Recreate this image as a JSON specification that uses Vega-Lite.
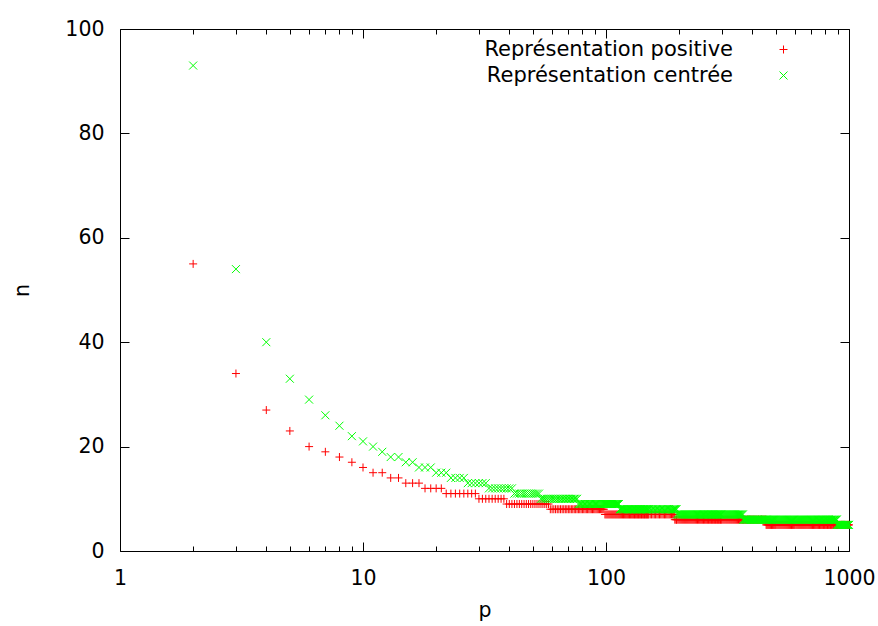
{
"$schema":"https://vega.github.io/schema/vega-lite/v6.json",
"width":729,"height":522,
"autosize":{"type":"none"},
"padding":{"left":120,"top":29,"right":29,"bottom":75},
"background":"#ffffff",
"config":{
"view":{"stroke":"#000000","strokeWidth":1},
"font":"DejaVu Sans",
"axis":{"domain":false,"grid":false,"tickColor":"#000000","tickWidth":1,"labelColor":"#000000","titleColor":"#000000","labelFont":"DejaVu Sans","titleFont":"DejaVu Sans","labelFontSize":20.5,"titleFontSize":20.5,"titleFontWeight":"normal","labelFlush":false,"labelOverlap":false}
},
"data":{"values":[
{"p":2,"a":55,"b":93},{"p":3,"a":34,"b":54},{"p":4,"a":27,"b":40},{"p":5,"a":23,"b":33},{"p":6,"a":20,"b":29},{"p":7,"a":19,"b":26},{"p":8,"a":18,"b":24},{"p":9,"a":17,"b":22},{"p":10,"a":16,"b":21},
{"p":11,"a":15,"b":20},{"p":12,"a":15,"b":19},{"p":13,"a":14,"b":18},{"p":14,"a":14,"b":18},{"p":15,"a":13,"b":17},{"p":16,"a":13,"b":17},{"p":17,"a":13,"b":16},{"p":18,"a":12,"b":16},{"p":19,"a":12,"b":16},{"p":20,"a":12,"b":15},
{"p":21,"a":12,"b":15},{"p":22,"a":11,"b":15},{"p":23,"a":11,"b":14},{"p":24,"a":11,"b":14},{"p":25,"a":11,"b":14},{"p":26,"a":11,"b":14},{"p":27,"a":11,"b":13},{"p":28,"a":11,"b":13},{"p":29,"a":11,"b":13},{"p":30,"a":10,"b":13},
{"p":31,"a":10,"b":13},{"p":32,"a":10,"b":13},{"p":33,"a":10,"b":12},{"p":34,"a":10,"b":12},{"p":35,"a":10,"b":12},{"p":36,"a":10,"b":12},{"p":37,"a":10,"b":12},{"p":38,"a":10,"b":12},{"p":39,"a":9,"b":12},{"p":40,"a":9,"b":12},
{"p":41,"a":9,"b":12},{"p":42,"a":9,"b":11},{"p":43,"a":9,"b":11},{"p":44,"a":9,"b":11},{"p":45,"a":9,"b":11},{"p":46,"a":9,"b":11},{"p":47,"a":9,"b":11},{"p":48,"a":9,"b":11},{"p":49,"a":9,"b":11},{"p":50,"a":9,"b":11},
{"p":51,"a":9,"b":11},{"p":52,"a":9,"b":11},{"p":53,"a":9,"b":11},{"p":54,"a":9,"b":10},{"p":55,"a":9,"b":10},{"p":56,"a":9,"b":10},{"p":57,"a":9,"b":10},{"p":58,"a":9,"b":10},{"p":59,"a":8,"b":10},{"p":60,"a":8,"b":10},
{"p":61,"a":8,"b":10},{"p":62,"a":8,"b":10},{"p":63,"a":8,"b":10},{"p":64,"a":8,"b":10},{"p":65,"a":8,"b":10},{"p":66,"a":8,"b":10},{"p":67,"a":8,"b":10},{"p":68,"a":8,"b":10},{"p":69,"a":8,"b":10},{"p":70,"a":8,"b":10},
{"p":71,"a":8,"b":10},{"p":72,"a":8,"b":10},{"p":73,"a":8,"b":10},{"p":74,"a":8,"b":10},{"p":75,"a":8,"b":10},{"p":76,"a":8,"b":10},{"p":77,"a":8,"b":9},{"p":78,"a":8,"b":9},{"p":79,"a":8,"b":9},{"p":80,"a":8,"b":9},
{"p":81,"a":8,"b":9},{"p":82,"a":8,"b":9},{"p":83,"a":8,"b":9},{"p":84,"a":8,"b":9},{"p":85,"a":8,"b":9},{"p":86,"a":8,"b":9},{"p":87,"a":8,"b":9},{"p":88,"a":8,"b":9},{"p":89,"a":8,"b":9},{"p":90,"a":8,"b":9},
{"p":91,"a":8,"b":9},{"p":92,"a":8,"b":9},{"p":93,"a":8,"b":9},{"p":94,"a":8,"b":9},{"p":95,"a":8,"b":9},{"p":96,"a":8,"b":9},{"p":97,"a":8,"b":9},{"p":98,"a":8,"b":9},{"p":99,"a":7,"b":9},{"p":100,"a":7,"b":9},
{"p":101,"a":7,"b":9},{"p":102,"a":7,"b":9},{"p":103,"a":7,"b":9},{"p":104,"a":7,"b":9},{"p":105,"a":7,"b":9},{"p":106,"a":7,"b":9},{"p":107,"a":7,"b":9},{"p":108,"a":7,"b":9},{"p":109,"a":7,"b":9},{"p":110,"a":7,"b":9},
{"p":111,"a":7,"b":9},{"p":112,"a":7,"b":9},{"p":113,"a":7,"b":9},{"p":114,"a":7,"b":8},{"p":115,"a":7,"b":8},{"p":116,"a":7,"b":8},{"p":117,"a":7,"b":8},{"p":118,"a":7,"b":8},{"p":119,"a":7,"b":8},{"p":120,"a":7,"b":8},
{"p":121,"a":7,"b":8},{"p":122,"a":7,"b":8},{"p":123,"a":7,"b":8},{"p":124,"a":7,"b":8},{"p":125,"a":7,"b":8},{"p":126,"a":7,"b":8},{"p":127,"a":7,"b":8},{"p":128,"a":7,"b":8},{"p":129,"a":7,"b":8},{"p":130,"a":7,"b":8},
{"p":131,"a":7,"b":8},{"p":132,"a":7,"b":8},{"p":133,"a":7,"b":8},{"p":134,"a":7,"b":8},{"p":135,"a":7,"b":8},{"p":136,"a":7,"b":8},{"p":137,"a":7,"b":8},{"p":138,"a":7,"b":8},{"p":139,"a":7,"b":8},{"p":140,"a":7,"b":8},
{"p":141,"a":7,"b":8},{"p":142,"a":7,"b":8},{"p":143,"a":7,"b":8},{"p":144,"a":7,"b":8},{"p":145,"a":7,"b":8},{"p":146,"a":7,"b":8},{"p":147,"a":7,"b":8},{"p":148,"a":7,"b":8},{"p":149,"a":7,"b":8},{"p":150,"a":7,"b":8},
{"p":152,"a":7,"b":8},{"p":154,"a":7,"b":8},{"p":156,"a":7,"b":8},{"p":158,"a":7,"b":8},{"p":160,"a":7,"b":8},{"p":162,"a":7,"b":8},{"p":164,"a":7,"b":8},{"p":166,"a":7,"b":8},{"p":168,"a":7,"b":8},{"p":170,"a":7,"b":8},
{"p":172,"a":7,"b":8},{"p":174,"a":7,"b":8},{"p":176,"a":7,"b":8},{"p":178,"a":7,"b":8},{"p":180,"a":7,"b":8},{"p":182,"a":7,"b":8},{"p":184,"a":7,"b":8},{"p":186,"a":7,"b":8},{"p":188,"a":7,"b":8},{"p":190,"a":7,"b":8},
{"p":191,"a":7,"b":8},{"p":192,"a":6,"b":8},{"p":194,"a":6,"b":8},{"p":195,"a":6,"b":8},{"p":196,"a":6,"b":7},{"p":198,"a":6,"b":7},{"p":200,"a":6,"b":7},
{"p":202,"a":6,"b":7},{"p":204,"a":6,"b":7},{"p":206,"a":6,"b":7},{"p":208,"a":6,"b":7},{"p":210,"a":6,"b":7},{"p":212,"a":6,"b":7},{"p":214,"a":6,"b":7},{"p":216,"a":6,"b":7},{"p":218,"a":6,"b":7},{"p":220,"a":6,"b":7},
{"p":222,"a":6,"b":7},{"p":224,"a":6,"b":7},{"p":226,"a":6,"b":7},{"p":228,"a":6,"b":7},{"p":230,"a":6,"b":7},{"p":232,"a":6,"b":7},{"p":234,"a":6,"b":7},{"p":236,"a":6,"b":7},{"p":238,"a":6,"b":7},{"p":240,"a":6,"b":7},
{"p":242,"a":6,"b":7},{"p":244,"a":6,"b":7},{"p":246,"a":6,"b":7},{"p":248,"a":6,"b":7},{"p":250,"a":6,"b":7},{"p":252,"a":6,"b":7},{"p":254,"a":6,"b":7},{"p":256,"a":6,"b":7},{"p":258,"a":6,"b":7},{"p":260,"a":6,"b":7},
{"p":262,"a":6,"b":7},{"p":264,"a":6,"b":7},{"p":266,"a":6,"b":7},{"p":268,"a":6,"b":7},{"p":270,"a":6,"b":7},{"p":272,"a":6,"b":7},{"p":274,"a":6,"b":7},{"p":276,"a":6,"b":7},{"p":278,"a":6,"b":7},{"p":280,"a":6,"b":7},
{"p":282,"a":6,"b":7},{"p":284,"a":6,"b":7},{"p":286,"a":6,"b":7},{"p":288,"a":6,"b":7},{"p":290,"a":6,"b":7},{"p":292,"a":6,"b":7},{"p":294,"a":6,"b":7},{"p":296,"a":6,"b":7},{"p":298,"a":6,"b":7},{"p":300,"a":6,"b":7},
{"p":303,"a":6,"b":7},{"p":306,"a":6,"b":7},{"p":309,"a":6,"b":7},{"p":312,"a":6,"b":7},{"p":315,"a":6,"b":7},{"p":318,"a":6,"b":7},{"p":321,"a":6,"b":7},{"p":324,"a":6,"b":7},{"p":327,"a":6,"b":7},{"p":330,"a":6,"b":7},
{"p":333,"a":6,"b":7},{"p":336,"a":6,"b":7},{"p":339,"a":6,"b":7},{"p":342,"a":6,"b":7},{"p":345,"a":6,"b":7},{"p":348,"a":6,"b":7},{"p":351,"a":6,"b":7},{"p":354,"a":6,"b":7},{"p":357,"a":6,"b":7},{"p":360,"a":6,"b":7},
{"p":363,"a":6,"b":7},{"p":366,"a":6,"b":7},{"p":367,"a":6,"b":6},{"p":369,"a":6,"b":6},{"p":372,"a":6,"b":6},{"p":375,"a":6,"b":6},{"p":378,"a":6,"b":6},{"p":381,"a":6,"b":6},{"p":384,"a":6,"b":6},{"p":387,"a":6,"b":6},
{"p":390,"a":6,"b":6},{"p":393,"a":6,"b":6},{"p":396,"a":6,"b":6},{"p":399,"a":6,"b":6},{"p":402,"a":6,"b":6},{"p":405,"a":6,"b":6},{"p":408,"a":6,"b":6},{"p":412,"a":6,"b":6},{"p":416,"a":6,"b":6},{"p":420,"a":6,"b":6},
{"p":424,"a":6,"b":6},{"p":428,"a":6,"b":6},{"p":432,"a":6,"b":6},{"p":436,"a":6,"b":6},{"p":440,"a":6,"b":6},{"p":444,"a":6,"b":6},{"p":448,"a":6,"b":6},{"p":452,"a":6,"b":6},{"p":455,"a":6,"b":6},{"p":456,"a":5,"b":6},
{"p":460,"a":5,"b":6},{"p":464,"a":5,"b":6},{"p":468,"a":5,"b":6},{"p":472,"a":5,"b":6},{"p":476,"a":5,"b":6},{"p":480,"a":5,"b":6},{"p":484,"a":5,"b":6},{"p":488,"a":5,"b":6},{"p":492,"a":5,"b":6},{"p":496,"a":5,"b":6},
{"p":500,"a":5,"b":6},{"p":505,"a":5,"b":6},{"p":510,"a":5,"b":6},{"p":515,"a":5,"b":6},{"p":520,"a":5,"b":6},{"p":525,"a":5,"b":6},{"p":530,"a":5,"b":6},{"p":535,"a":5,"b":6},{"p":540,"a":5,"b":6},{"p":545,"a":5,"b":6},
{"p":550,"a":5,"b":6},{"p":555,"a":5,"b":6},{"p":560,"a":5,"b":6},{"p":565,"a":5,"b":6},{"p":570,"a":5,"b":6},{"p":575,"a":5,"b":6},{"p":580,"a":5,"b":6},{"p":585,"a":5,"b":6},{"p":590,"a":5,"b":6},{"p":595,"a":5,"b":6},
{"p":600,"a":5,"b":6},{"p":606,"a":5,"b":6},{"p":612,"a":5,"b":6},{"p":618,"a":5,"b":6},{"p":624,"a":5,"b":6},{"p":630,"a":5,"b":6},{"p":636,"a":5,"b":6},{"p":642,"a":5,"b":6},{"p":648,"a":5,"b":6},{"p":654,"a":5,"b":6},
{"p":660,"a":5,"b":6},{"p":666,"a":5,"b":6},{"p":672,"a":5,"b":6},{"p":678,"a":5,"b":6},{"p":684,"a":5,"b":6},{"p":690,"a":5,"b":6},{"p":696,"a":5,"b":6},{"p":702,"a":5,"b":6},{"p":708,"a":5,"b":6},{"p":714,"a":5,"b":6},
{"p":720,"a":5,"b":6},{"p":726,"a":5,"b":6},{"p":732,"a":5,"b":6},{"p":738,"a":5,"b":6},{"p":744,"a":5,"b":6},{"p":750,"a":5,"b":6},{"p":756,"a":5,"b":6},{"p":762,"a":5,"b":6},{"p":768,"a":5,"b":6},{"p":774,"a":5,"b":6},
{"p":780,"a":5,"b":6},{"p":786,"a":5,"b":6},{"p":792,"a":5,"b":6},{"p":798,"a":5,"b":6},{"p":804,"a":5,"b":6},{"p":810,"a":5,"b":6},{"p":816,"a":5,"b":6},{"p":822,"a":5,"b":6},{"p":828,"a":5,"b":6},{"p":834,"a":5,"b":6},
{"p":840,"a":5,"b":6},{"p":846,"a":5,"b":6},{"p":852,"a":5,"b":6},{"p":858,"a":5,"b":6},{"p":864,"a":5,"b":6},{"p":870,"a":5,"b":6},{"p":876,"a":5,"b":6},{"p":882,"a":5,"b":6},{"p":888,"a":5,"b":6},{"p":890,"a":5,"b":6},
{"p":891,"a":5,"b":5},{"p":897,"a":5,"b":5},{"p":904,"a":5,"b":5},{"p":911,"a":5,"b":5},{"p":918,"a":5,"b":5},{"p":925,"a":5,"b":5},{"p":932,"a":5,"b":5},{"p":939,"a":5,"b":5},{"p":946,"a":5,"b":5},{"p":953,"a":5,"b":5},
{"p":960,"a":5,"b":5},{"p":967,"a":5,"b":5},{"p":974,"a":5,"b":5},{"p":981,"a":5,"b":5},{"p":988,"a":5,"b":5},{"p":994,"a":5,"b":5},{"p":1000,"a":5,"b":5}
]},
"transform":[{"fold":["a","b"],"as":["s","n"]}],
"encoding":{
"x":{"field":"p","type":"quantitative","scale":{"type":"log","domain":[1,1000],"nice":false}},
"y":{"field":"n","type":"quantitative","scale":{"domain":[0,100],"nice":false,"zero":false}}
},
"layer":[
{"mark":{"type":"point","filled":false,"strokeWidth":1,"opacity":1},
"encoding":{
"x":{"field":"p","type":"quantitative","scale":{"type":"log","domain":[1,1000],"nice":false},"axis":{"orient":"bottom","values":[1,10,100,1000],"format":"d","tickSize":-9,"labelPadding":26,"title":"p","titlePadding":12}},
"y":{"field":"n","type":"quantitative","scale":{"domain":[0,100],"nice":false,"zero":false},"axis":{"orient":"left","values":[0,20,40,60,80,100],"tickSize":-9,"labelPadding":25,"title":"n","titlePadding":32}},
"color":{"field":"s","type":"nominal","scale":{"domain":["a","b"],"range":["#ff0000","#00ff00"]},"legend":{"orient":"none","legendX":653,"legendY":10,"title":null,"direction":"vertical","labelExpr":"datum.label == 'a' ? 'Représentation positive' : 'Représentation centrée'","labelAlign":"right","labelOffset":-61,"labelFontSize":21,"labelFont":"DejaVu Sans","labelColor":"#000000","labelLimit":0,"symbolSize":64,"symbolStrokeWidth":1,"rowPadding":4}},
"shape":{"field":"s","type":"nominal","scale":{"domain":["a","b"],"range":["M-1,0L1,0M0,-1L0,1","M-1,-1L1,1M-1,1L1,-1"]},"legend":{"orient":"none","legendX":653,"legendY":10,"title":null,"direction":"vertical","labelExpr":"datum.label == 'a' ? 'Représentation positive' : 'Représentation centrée'","labelAlign":"right","labelOffset":-61,"labelFontSize":21,"labelFont":"DejaVu Sans","labelColor":"#000000","labelLimit":0,"symbolSize":64,"symbolStrokeWidth":1,"rowPadding":4}},
"size":{"value":64},
"order":{"field":"s","sort":"ascending"}
}},
{"mark":{"type":"point","opacity":0},
"encoding":{
"x":{"field":"p","type":"quantitative","axis":{"orient":"bottom","values":[2,3,4,5,6,7,8,9,20,30,40,50,60,70,80,90,200,300,400,500,600,700,800,900],"tickSize":-5,"labels":false,"title":null}},
"y":{"field":"n","type":"quantitative","axis":{"orient":"right","values":[0,20,40,60,80,100],"tickSize":-9,"labels":false,"title":null}}
}},
{"mark":{"type":"point","opacity":0},
"encoding":{
"x":{"field":"p","type":"quantitative","axis":{"orient":"top","values":[1,10,100,1000],"tickSize":-9,"labels":false,"title":null}},
"y":{"field":"n","type":"quantitative","axis":null}
}},
{"mark":{"type":"point","opacity":0},
"encoding":{
"x":{"field":"p","type":"quantitative","axis":{"orient":"top","values":[2,3,4,5,6,7,8,9,20,30,40,50,60,70,80,90,200,300,400,500,600,700,800,900],"tickSize":-5,"labels":false,"title":null}},
"y":{"field":"n","type":"quantitative","axis":null}
}}
],
"resolve":{"axis":{"x":"independent","y":"independent"}}
}
